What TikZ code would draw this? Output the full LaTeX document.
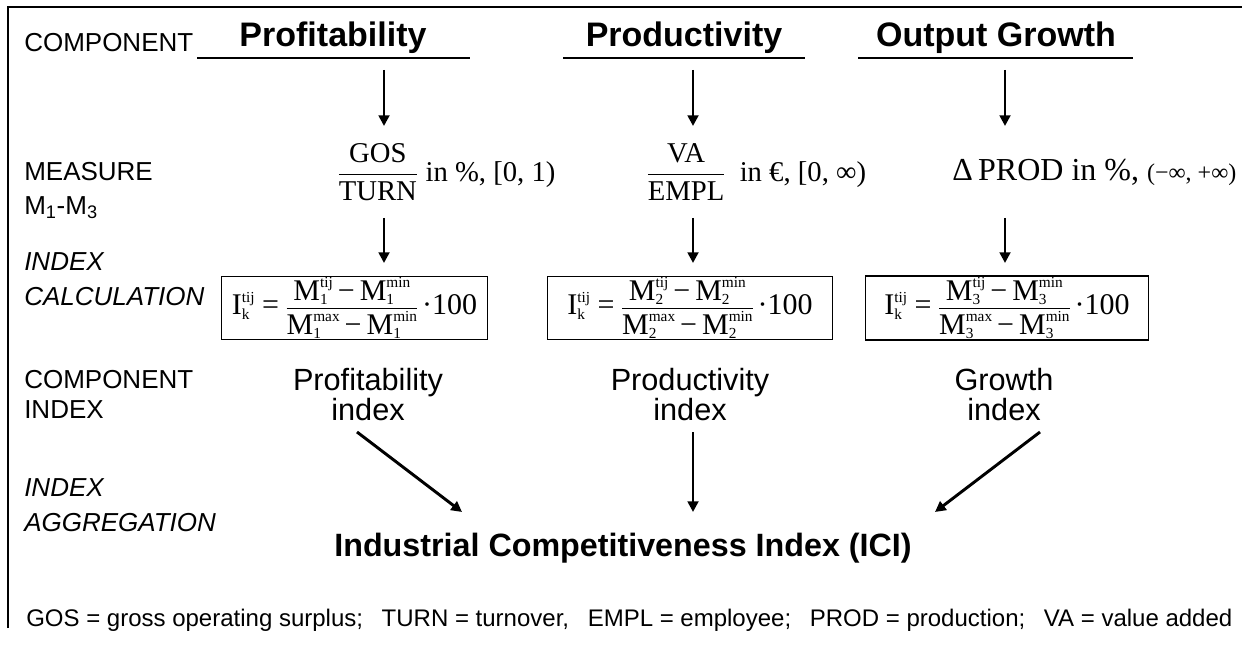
\documentclass[tikz,border=0pt]{standalone}
\usepackage{fontspec}
\setmainfont{Liberation Sans}
\newfontfamily\tnr{Liberation Serif}
\usepackage{amsmath}
\usetikzlibrary{arrows.meta}
\newcommand\R[1]{\text{\tnr #1}}
% scripts stacked beside a letter (text mode)
\newcommand\sx[2]{\begingroup\fontsize{11.5}{11.5}\selectfont
  \setbox0\hbox{#1}\setbox2\hbox{#2}%
  \dimen0=\wd0 \ifdim\wd2>\dimen0 \dimen0=\wd2 \fi
  \rlap{\raisebox{9.5pt}{\box0}}\raisebox{-3.3pt}{\hbox to\dimen0{\box2\hfil}}\endgroup}
\newcommand\fr[2]{\vcenter{\offinterlineskip\halign{\hfil##\hfil\cr#1\cr\noalign{\kern2.1pt\hrule height0.7pt\kern2.1pt}#2\cr}}}
\newcommand\idx[1]{I\sx{tij}{k} = $\fr{M\sx{tij}{#1}\,−\,M\sx{min}{#1}}{M\sx{max}{#1}\,−\,M\sx{min}{#1}}$\,·100}
\tikzset{
  lab/.style={anchor=west, inner sep=0pt, font=\fontsize{19.5}{23}\selectfont},
  ilab/.style={lab, font=\fontsize{19.5}{23}\selectfont\itshape},
  ttl/.style={inner sep=0pt, font=\fontsize{25.5}{30}\selectfont\bfseries},
  meas/.style={inner sep=0pt, anchor=west, font=\fontsize{21.5}{26}\selectfont\tnr},
  fbox/.style={draw, line width=0.9pt, inner sep=1pt, minimum height=45pt, font=\fontsize{22.5}{27}\selectfont\tnr},
  cidx/.style={inner sep=0pt, align=center, font=\fontsize{23}{22.5}\selectfont},
  arr/.style={line width=2.2pt, -{Triangle[length=8pt,width=8pt]}},
}
\begin{document}
\begin{tikzpicture}[x=0.75pt,y=-0.75pt]
\useasboundingbox (0,0) rectangle (1242,652);
% frame
\draw[line width=1pt] (8,628) -- (8,7) -- (1242,7);
% left labels
\node[lab] (l1) at (24,43) {COMPONENT};
\node[lab] (l2) at (24,172) {MEASURE};
\node[lab] (l3) at (24,208) {M$_{\text{1}}$-M$_{\text{3}}$};
\node[ilab] (l4) at (24,262) {INDEX};
\node[ilab] (l5) at (24,297) {CALCULATION};
\node[lab] (l6) at (24,380) {COMPONENT};
\node[lab] (l7) at (24,410) {INDEX};
\node[ilab] (l8) at (24,488) {INDEX};
\node[ilab] (l9) at (24,523) {AGGREGATION};
% titles
\node[ttl] (t1) at (333,38) {Profitability};
\node[ttl] (t2) at (684,38) {Productivity};
\node[ttl] (t3) at (996,38) {Output Growth};
\draw[line width=0.9pt] (197,58) -- (470,58);
\draw[line width=0.9pt] (563,58) -- (805,58);
\draw[line width=0.9pt] (858,58) -- (1133,58);
% measures
\node[meas] (m1) at (337,172) {$\dfrac{\R{GOS}}{\R{TURN}}$ in \%, [0, 1)};
\node[meas] (m2) at (646,172) {$\dfrac{\R{VA}}{\R{EMPL}}$\hspace{5pt} in €, [0, ∞)};
\node[meas, font=\fontsize{24}{28}\selectfont\tnr] (m3) at (952,172) {Δ\,PROD in \%, {\fontsize{18}{21}\selectfont(−∞, +∞)}};
% index boxes
\node[fbox, minimum width=199pt] (b1) at (354.5,308) {\idx{1}};
\node[fbox, minimum width=214pt] (b2) at (690,308) {\idx{2}};
\node[fbox, minimum width=212pt] (b3) at (1007,308) {\idx{3}};
% component indices
\node[cidx] (c1) at (368,395) {Profitability\\index};
\node[cidx] (c2) at (690,395) {Productivity\\index};
\node[cidx] (c3) at (1004,395) {Growth\\index};
% ICI
\node[inner sep=0pt, font=\fontsize{24.2}{28}\selectfont\bfseries] (ici) at (623,548) {Industrial Competitiveness Index (ICI)};
% footer
\node[lab, font=\fontsize{18}{21}\selectfont] (foot) at (26,620) {GOS = gross operating surplus;\hspace{14pt}TURN = turnover,\hspace{14pt}EMPL = employee;\hspace{14pt}PROD = production;\hspace{14pt}VA = value added};
% arrows
\coordinate (a1s) at (384,70);  \coordinate (a1e) at (384,126);
\coordinate (a2s) at (693,70);  \coordinate (a2e) at (693,126);
\coordinate (a3s) at (1005,70); \coordinate (a3e) at (1005,126);
\coordinate (b1s) at (384,218); \coordinate (b1e) at (384,263);
\coordinate (b2s) at (693,218); \coordinate (b2e) at (693,263);
\coordinate (b3s) at (1005,218);\coordinate (b3e) at (1005,263);
\coordinate (c1s) at (357,432); \coordinate (c1e) at (462,512);
\coordinate (c2s) at (693,432); \coordinate (c2e) at (693,512);
\coordinate (c3s) at (1040,432);\coordinate (c3e) at (935,512);
\foreach \p in {a1,a2,a3,b1,b2,b3,c1,c2,c3} \draw[arr] (\p s) -- (\p e);
\end{tikzpicture}
\end{document}
